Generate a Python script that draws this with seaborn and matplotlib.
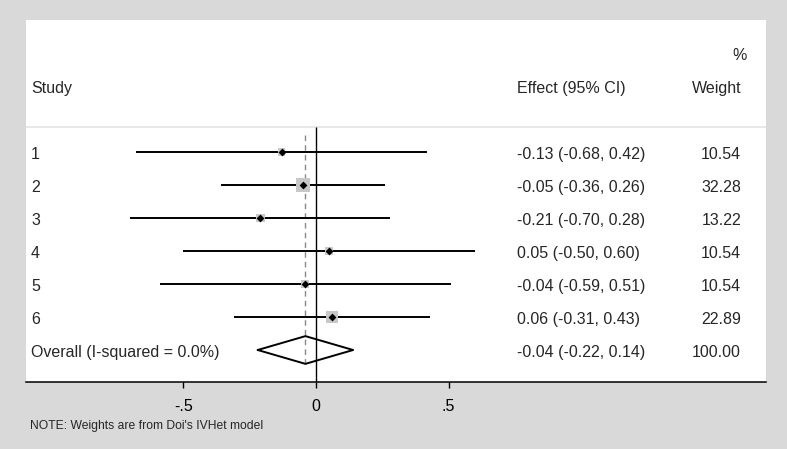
import matplotlib
matplotlib.use("Agg")
import matplotlib.pyplot as plt
import pandas as pd
import seaborn as sns

# Study level data
studies = ["1", "2", "3", "4", "5", "6"]
effect = [-0.13, -0.05, -0.21, 0.05, -0.04, 0.06]
ci_low = [-0.68, -0.36, -0.70, -0.50, -0.59, -0.31]
ci_high = [0.42, 0.26, 0.28, 0.60, 0.51, 0.43]
weight = [10.54, 32.28, 13.22, 10.54, 10.54, 22.89]

# Pooled estimate
overall_label = "Overall (I-squared = 0.0%)"
overall_effect = -0.04
overall_low = -0.22
overall_high = 0.14
overall_weight = 100.00

xticks = [-0.5, 0, 0.5]
xticklabels = ["-.5", "0", ".5"]
note = "NOTE: Weights are from Doi's IVHet model"

df = pd.DataFrame({"study": studies, "effect": effect, "low": ci_low,
                   "high": ci_high, "weight": weight})
df["row"] = range(1, len(df) + 1)
overall_row = len(df) + 1

sns.set_style("white")
plt.rcParams["font.family"] = ["Liberation Sans", "DejaVu Sans"]

fig = plt.figure(figsize=(7.87, 4.49), dpi=100)
fig.patch.set_facecolor("#d9d9d9")
ax = fig.add_axes([26 / 787, 1 - 382 / 449, 740 / 787, 362 / 449])
ax.set_facecolor("white")

xmin, xmax = -1.0943, 1.698
ax.set_xlim(xmin, xmax)
ax.set_ylim(7.97, -3.0)

# header rule
ax.axhline(0.23, color="#e4e4e4", lw=1.2)
# null line and pooled estimate line
ax.vlines(0, 0.23, 7.97, color="black", lw=1.0)
ax.vlines(overall_effect, 0.47, 7.45, color="#888888", lw=1.0, linestyles=(0, (4, 3)))

# confidence intervals
ax.hlines(df["row"], df["low"], df["high"], color="black", lw=1.4)

# weight boxes (area proportional to weight), then point estimates
ax.scatter(df["effect"], df["row"], s=df["weight"] * 3.0, marker="s",
           color="#c8c8c8", linewidths=0, zorder=3)
sns.scatterplot(data=df, x="effect", y="row", marker="D", color="black", s=16,
                linewidth=0, legend=False, ax=ax, zorder=4)

# pooled diamond
h = 0.42
ax.plot([overall_low, overall_effect, overall_high, overall_effect, overall_low],
        [overall_row, overall_row - h, overall_row, overall_row + h, overall_row],
        color="black", lw=1.4, zorder=4)

# text columns
fs = 11.5
dy = 0.08  # small downward nudge so text sits on the row like the original
x_study = -1.075
x_eff = 0.757
x_w = 1.604
ax.text(x_study, -1 + dy, "Study", fontsize=fs, va="center", ha="left")
ax.text(x_eff, -1 + dy, "Effect (95% CI)", fontsize=fs, va="center", ha="left")
ax.text(x_w, -1 + dy, "Weight", fontsize=fs, va="center", ha="right")
ax.text(x_w + 0.022, -2 + dy, "%", fontsize=fs, va="center", ha="right")

for _, r in df.iterrows():
    ax.text(x_study, r["row"] + dy, r["study"], fontsize=fs, va="center", ha="left")
    ax.text(x_eff, r["row"] + dy, f"{r['effect']:.2f} ({r['low']:.2f}, {r['high']:.2f})",
            fontsize=fs, va="center", ha="left")
    ax.text(x_w, r["row"] + dy, f"{r['weight']:.2f}", fontsize=fs, va="center", ha="right")

ax.text(x_study, overall_row + dy, overall_label, fontsize=fs, va="center", ha="left")
ax.text(x_eff, overall_row + dy, f"{overall_effect:.2f} ({overall_low:.2f}, {overall_high:.2f})",
        fontsize=fs, va="center", ha="left")
ax.text(x_w, overall_row + dy, f"{overall_weight:.2f}", fontsize=fs, va="center", ha="right")

# axes styling
for side in ["top", "left", "right"]:
    ax.spines[side].set_visible(False)
ax.spines["bottom"].set_color("black")
ax.spines["bottom"].set_linewidth(1.1)
ax.set_yticks([])
ax.set_xticks(xticks)
ax.set_xticklabels(xticklabels)
ax.tick_params(axis="x", direction="out", length=4.5, width=1.0, pad=7.5,
               labelsize=fs, colors="black", bottom=True)
ax.set_xlabel("")
ax.set_ylabel("")

fig.text(30 / 787, 1 - 426 / 449, note, fontsize=8.7, va="center", ha="left")

fig.savefig("out.png", dpi=100, facecolor=fig.get_facecolor())
